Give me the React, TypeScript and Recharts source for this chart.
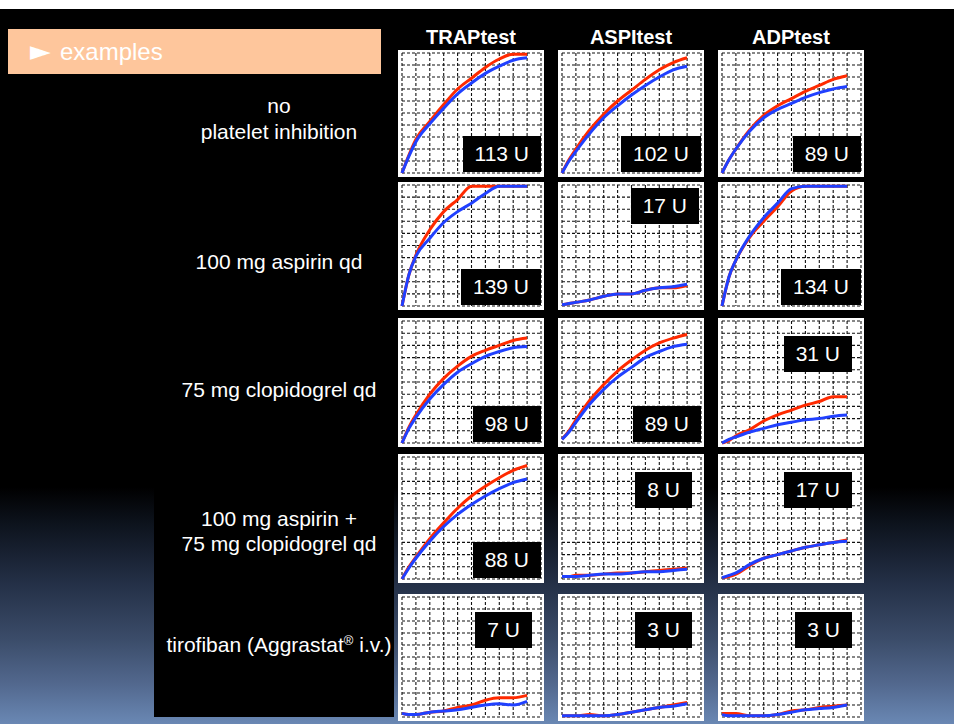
import { LineChart, Line, XAxis, YAxis, CartesianGrid } from "recharts";

// sample times along the x axis, in grid cells
const times = [0, 0.5, 1, 2, 3, 4, 5, 6, 7, 8, 9];
const gridTicks = [0, 1, 2, 3, 4, 5, 6, 7, 8, 9, 10];

const tests = ["TRAPtest", "ASPItest", "ADPtest"];
const regimens = [
  ["no", "platelet inhibition"],
  ["100 mg aspirin qd"],
  ["75 mg clopidogrel qd"],
  ["100 mg aspirin +", "75 mg clopidogrel qd"],
  ["tirofiban (Aggrastat® i.v.)"],
];

// area under the aggregation curve, U
const aucUnits = [
  [113, 102, 89],
  [139, 17, 134],
  [98, 89, 31],
  [88, 8, 17],
  [7, 3, 3],
];

// sensor 1 (red) and sensor 2 (blue) traces, aggregation in grid cells
const trapNone1 = [0, 1.5, 2.8, 4.3, 5.7, 7.0, 7.9, 8.8, 9.5, 9.9, 9.9];
const trapNone2 = [0, 1.4, 2.6, 4.1, 5.4, 6.6, 7.5, 8.3, 8.9, 9.4, 9.6];
const aspiNone1 = [0, 1.1, 2.0, 3.6, 4.9, 6.0, 6.9, 7.8, 8.6, 9.2, 9.6];
const aspiNone2 = [0, 1.0, 1.8, 3.3, 4.6, 5.6, 6.5, 7.3, 8.0, 8.6, 8.9];
const adpNone1 = [0, 1.1, 2.0, 3.6, 4.8, 5.6, 6.2, 6.8, 7.3, 7.8, 8.1];
const adpNone2 = [0, 1.1, 2.0, 3.5, 4.6, 5.3, 5.8, 6.3, 6.7, 7.0, 7.2];

const trapAsa1 = [0, 2.6, 4.2, 6.3, 7.8, 8.8, 9.9, 9.9, 9.9, 9.9, 9.9];
const trapAsa2 = [0, 2.6, 4.1, 5.6, 6.9, 7.8, 8.5, 9.3, 9.9, 9.9, 9.9];
const aspiAsa1 = [0.1, 0.2, 0.3, 0.5, 0.8, 1.0, 1.0, 1.3, 1.5, 1.5, 1.7];
const aspiAsa2 = [0.1, 0.2, 0.3, 0.5, 0.8, 1.0, 1.0, 1.3, 1.5, 1.6, 1.8];
const adpAsa1 = [0, 2.4, 3.8, 5.7, 7.0, 8.2, 9.5, 9.9, 9.9, 9.9, 9.9];
const adpAsa2 = [0, 2.4, 3.8, 5.8, 7.3, 8.5, 9.7, 9.9, 9.9, 9.9, 9.9];

const trapClop1 = [0, 1.3, 2.3, 4.0, 5.3, 6.3, 7.1, 7.6, 8.0, 8.4, 8.6];
const trapClop2 = [0, 1.2, 2.1, 3.6, 4.8, 5.8, 6.5, 7.1, 7.5, 7.8, 7.9];
const aspiClop1 = [0.3, 1.0, 1.9, 3.5, 4.8, 5.9, 6.8, 7.6, 8.2, 8.6, 8.9];
const aspiClop2 = [0.3, 0.9, 1.7, 3.2, 4.4, 5.4, 6.2, 7.0, 7.5, 7.9, 8.1];
const adpClop1 = [0, 0.2, 0.6, 1.1, 1.8, 2.3, 2.7, 3.1, 3.4, 3.8, 3.8];
const adpClop2 = [0, 0.3, 0.5, 0.9, 1.2, 1.5, 1.7, 1.9, 2.0, 2.2, 2.3];

const trapDual1 = [0, 1.0, 1.8, 3.3, 4.6, 5.8, 6.8, 7.6, 8.3, 8.9, 9.3];
const trapDual2 = [0, 0.9, 1.7, 3.1, 4.3, 5.3, 6.1, 6.8, 7.4, 7.9, 8.2];
const aspiDual1 = [0.2, 0.2, 0.3, 0.3, 0.4, 0.5, 0.5, 0.6, 0.7, 0.8, 0.9];
const aspiDual2 = [0.2, 0.2, 0.2, 0.3, 0.4, 0.4, 0.5, 0.6, 0.6, 0.7, 0.8];
const adpDual1 = [0.1, 0.2, 0.4, 1.1, 1.7, 2.0, 2.3, 2.6, 2.8, 3.0, 3.2];
const adpDual2 = [0.1, 0.3, 0.5, 1.2, 1.7, 2.0, 2.3, 2.6, 2.8, 3.0, 3.1];

const trapTiro1 = [0.3, 0.2, 0.2, 0.4, 0.5, 0.8, 1.0, 1.4, 1.6, 1.6, 1.8];
const trapTiro2 = [0.3, 0.2, 0.2, 0.4, 0.5, 0.6, 0.8, 1.0, 1.1, 1.0, 1.3];
const aspiTiro1 = [0.1, 0.1, 0.1, 0.2, 0.1, 0.2, 0.4, 0.6, 0.8, 1.0, 1.2];
const aspiTiro2 = [0.1, 0.1, 0.1, 0.1, 0.1, 0.2, 0.4, 0.6, 0.8, 0.9, 1.1];
const adpTiro1 = [0.3, 0.3, 0.3, 0.1, 0.1, 0.2, 0.5, 0.6, 0.8, 0.9, 1.0];
const adpTiro2 = [0.2, 0.1, 0.1, 0.1, 0.1, 0.2, 0.4, 0.6, 0.7, 0.8, 1.0];

const traces = [
  [[trapNone1, trapNone2], [aspiNone1, aspiNone2], [adpNone1, adpNone2]],
  [[trapAsa1, trapAsa2], [aspiAsa1, aspiAsa2], [adpAsa1, adpAsa2]],
  [[trapClop1, trapClop2], [aspiClop1, aspiClop2], [adpClop1, adpClop2]],
  [[trapDual1, trapDual2], [aspiDual1, aspiDual2], [adpDual1, adpDual2]],
  [[trapTiro1, trapTiro2], [aspiTiro1, aspiTiro2], [adpTiro1, adpTiro2]],
];

// layout
const colLeft = [398, 558, 718];
const panelW = 146;
const rowTop = [50, 182, 318, 454, 594];
const rowH = [127, 128, 129, 129, 127];
const labelTop = [93, 249, 377, 506, 628];
// where the U badge sits in each panel
const badgeSpot = [
  ["low", "low", "low"],
  ["low", "high", "low"],
  ["low", "low", "mid"],
  ["low", "mid", "mid"],
  ["mid", "mid", "mid"],
];

const FONT = '"Liberation Sans", Arial, Helvetica, sans-serif';
const RED = "#ff2a00";
const BLUE = "#2040ff";

function Regimen({ text }: { text: string }) {
  const parts = text.split("®");
  if (parts.length === 1) return <>{text}</>;
  return (
    <>
      {parts[0]}
      <span style={{ fontSize: 13, verticalAlign: 7 }}>®</span>
      {parts[1]}
    </>
  );
}

// grid lines on every whole cell, placed through the axis scale
const gridX = ({ xAxis, offset }: any) =>
  gridTicks.map((t) => (xAxis && typeof xAxis.scale === "function" ? xAxis.scale(t) : offset.left + (t / 10) * offset.width));
const gridY = ({ yAxis, offset }: any) =>
  gridTicks.map((t) => (yAxis && typeof yAxis.scale === "function" ? yAxis.scale(t) : offset.top + (1 - t / 10) * offset.height));

function TracePanel({ row, col }: { row: number; col: number }) {
  const [s1, s2] = traces[row][col];
  const data = times.map((t, i) => ({ t, s1: s1[i], s2: s2[i] }));
  const h = rowH[row];
  const spot = badgeSpot[row][col];
  const badgePos: React.CSSProperties =
    spot === "low"
      ? { bottom: 5, right: 3 }
      : spot === "high"
      ? { top: 6, right: 5 }
      : { top: 18, right: 12 };

  return (
    <div
      style={{
        position: "absolute",
        left: colLeft[col],
        top: rowTop[row],
        width: panelW,
        height: h,
        background: "#fff",
      }}
    >
      <LineChart width={panelW} height={h} data={data} margin={{ top: 3, right: 3, bottom: 4, left: 4 }}>
        <CartesianGrid
          stroke="#111"
          strokeWidth={1.1}
          strokeDasharray="3 2"
          verticalCoordinatesGenerator={gridX}
          horizontalCoordinatesGenerator={gridY}
        />
        <XAxis dataKey="t" type="number" domain={[0, 10]} ticks={gridTicks} tickCount={11} hide />
        <YAxis type="number" domain={[0, 10]} ticks={gridTicks} tickCount={11} hide />
        <Line
          dataKey="s1"
          type="monotone"
          stroke={RED}
          strokeWidth={3}
          dot={false}
          isAnimationActive={false}
        />
        <Line
          dataKey="s2"
          type="monotone"
          stroke={BLUE}
          strokeWidth={3}
          dot={false}
          isAnimationActive={false}
        />
      </LineChart>
      <div
        style={{
          position: "absolute",
          ...badgePos,
          height: 36,
          padding: "0 12px",
          background: "#000",
          color: "#fff",
          fontSize: 21,
          lineHeight: "36px",
          whiteSpace: "nowrap",
        }}
      >
        {aucUnits[row][col]} U
      </div>
    </div>
  );
}

export default function App() {
  return (
    <div
      style={{
        position: "absolute",
        left: 0,
        top: 0,
        width: 954,
        height: 724,
        overflow: "hidden",
        background: "#fff",
        fontFamily: FONT,
      }}
    >
      <div
        style={{
          position: "absolute",
          left: 0,
          top: 9,
          width: 954,
          height: 715,
          background:
            "linear-gradient(180deg, #000 0px, #000 478px, #0d131d 515px, #243047 575px, #3b4c69 630px, #52688e 675px, #6a88b4 715px)",
        }}
      />
      <div style={{ position: "absolute", left: 154, top: 9, width: 240, height: 708, background: "#000" }} />

      <div
        style={{
          position: "absolute",
          left: 8,
          top: 29,
          width: 373,
          height: 45,
          background: "#fec69c",
          color: "#fff",
          fontSize: 24,
          lineHeight: "45px",
          whiteSpace: "nowrap",
        }}
      >
        <span style={{ position: "absolute", left: 22, top: -1, fontFamily: '"DejaVu Sans", sans-serif', fontSize: 27 }}>►</span>
        <span style={{ position: "absolute", left: 52 }}>examples</span>
      </div>

      {tests.map((name, c) => (
        <div
          key={name}
          style={{
            position: "absolute",
            left: colLeft[c] - 20,
            top: 25,
            width: panelW + 40,
            textAlign: "center",
            color: "#fff",
            fontWeight: "bold",
            fontSize: 20,
            lineHeight: "24px",
          }}
        >
          {name}
        </div>
      ))}

      {regimens.map((lines, r) => (
        <div
          key={r}
          style={{
            position: "absolute",
            left: 160,
            top: labelTop[r],
            width: 238,
            textAlign: "center",
            color: "#fff",
            fontSize: 21,
            lineHeight: r === 3 ? "25px" : "26px",
            whiteSpace: "nowrap",
          }}
        >
          {lines.map((ln) => (
            <div key={ln}>
              <Regimen text={ln} />
            </div>
          ))}
        </div>
      ))}

      {traces.map((rowTraces, r) =>
        rowTraces.map((_, c) => <TracePanel key={`${r}-${c}`} row={r} col={c} />)
      )}
    </div>
  );
}
